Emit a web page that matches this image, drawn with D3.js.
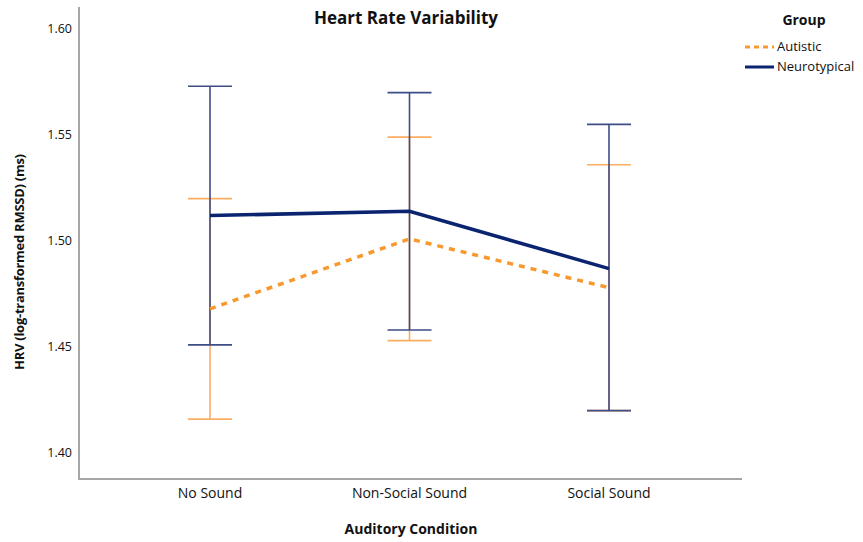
<!DOCTYPE html>
<html>
<head>
<meta charset="utf-8">
<script src="https://cdn.jsdelivr.net/npm/d3@7"></script>
<style>
  body { margin: 0; background: #fff; }
  text { font-family: "Open Sans", sans-serif; fill: #111; }
</style>
</head>
<body>
<div id="chart"></div>
<script>
// categories and tick labels
const conditions = ["No Sound", "Non-Social Sound", "Social Sound"];
const yTicks = [1.40, 1.45, 1.50, 1.55, 1.60];

// means and error bar limits per group
const autisticMean = [1.468, 1.501, 1.478];
const autisticLow = [1.416, 1.453, 1.420];
const autisticHigh = [1.520, 1.549, 1.536];

const ntMean = [1.512, 1.514, 1.487];
const ntLow = [1.451, 1.458, 1.420];
const ntHigh = [1.573, 1.570, 1.555];

const width = 863;
const height = 542;

const svg = d3.select("#chart")
    .append("svg")
    .attr("width", width)
    .attr("height", height);

const x = d3.scalePoint()
    .domain(conditions)
    .range([210, 609]);

const y = d3.scaleLinear()
    .domain([1.40, 1.60])
    .range([453, 29]);

// axes lines (no tick marks, like SPSS)
const axisColor = "#a6a6a6";
svg.append("line")
    .attr("x1", 79).attr("x2", 79)
    .attr("y1", 7).attr("y2", 479)
    .attr("stroke", axisColor).attr("stroke-width", 2);
svg.append("line")
    .attr("x1", 78).attr("x2", 742)
    .attr("y1", 479).attr("y2", 479)
    .attr("stroke", axisColor).attr("stroke-width", 2);

// y tick labels
svg.selectAll(".ytick")
    .data(yTicks)
    .enter()
    .append("text")
    .attr("x", 72)
    .attr("y", d => y(d) + 4)
    .attr("text-anchor", "end")
    .style("font-size", "12.5px")
    .text(d => d.toFixed(2));

// x tick labels
svg.selectAll(".xtick")
    .data(conditions)
    .enter()
    .append("text")
    .attr("x", d => x(d))
    .attr("y", 498)
    .attr("text-anchor", "middle")
    .style("font-size", "14px")
    .text(d => d);

// axis titles
svg.append("text")
    .attr("x", 411).attr("y", 534)
    .attr("text-anchor", "middle")
    .style("font-size", "14px").style("font-weight", "bold")
    .text("Auditory Condition");

svg.append("text")
    .attr("transform", "translate(24,262) rotate(-90)")
    .attr("text-anchor", "middle")
    .style("font-size", "13px").style("font-weight", "bold")
    .attr("textLength", 216)
    .text("HRV (log-transformed RMSSD) (ms)");

svg.append("text")
    .attr("x", 406).attr("y", 24)
    .attr("text-anchor", "middle")
    .style("font-size", "17px").style("font-weight", "bold")
    .text("Heart Rate Variability");

// error bars
const cap = 22;
function errorBars(low, high, color) {
    const g = svg.append("g").attr("stroke", color).attr("stroke-width", 1.6).attr("fill", "none");
    conditions.forEach((c, i) => {
        g.append("line")
            .attr("x1", x(c)).attr("x2", x(c))
            .attr("y1", y(low[i])).attr("y2", y(high[i]));
        [low[i], high[i]].forEach(v => {
            g.append("line")
                .attr("x1", x(c) - cap).attr("x2", x(c) + cap)
                .attr("y1", y(v)).attr("y2", y(v));
        });
    });
}

const navy = "#0b2470";

errorBars(autisticLow, autisticHigh, "#fbae62");
errorBars(ntLow, ntHigh, "#3d4d86");

const line = d3.line()
    .x((d, i) => x(conditions[i]))
    .y(d => y(d));

svg.append("path")
    .attr("d", line(autisticMean))
    .attr("fill", "none")
    .attr("stroke", "#f7992f")
    .attr("stroke-width", 3.5)
    .attr("stroke-dasharray", "6,6");

svg.append("path")
    .attr("d", line(ntMean))
    .attr("fill", "none")
    .attr("stroke", navy)
    .attr("stroke-width", 3.5);

// legend
svg.append("text")
    .attr("x", 804).attr("y", 25)
    .attr("text-anchor", "middle")
    .style("font-size", "14px").style("font-weight", "bold")
    .text("Group");

const legend = [
    { name: "Autistic", color: "#f7992f", dash: "5,4" },
    { name: "Neurotypical", color: navy, dash: null }
];
legend.forEach((d, i) => {
    const ly = 47 + i * 20;
    svg.append("line")
        .attr("x1", 745).attr("x2", 774)
        .attr("y1", ly).attr("y2", ly)
        .attr("stroke", d.color)
        .attr("stroke-width", 3)
        .attr("stroke-dasharray", d.dash);
    svg.append("text")
        .attr("x", 777).attr("y", ly + 4)
        .style("font-size", "13px")
        .text(d.name);
});
</script>
</body>
</html>
